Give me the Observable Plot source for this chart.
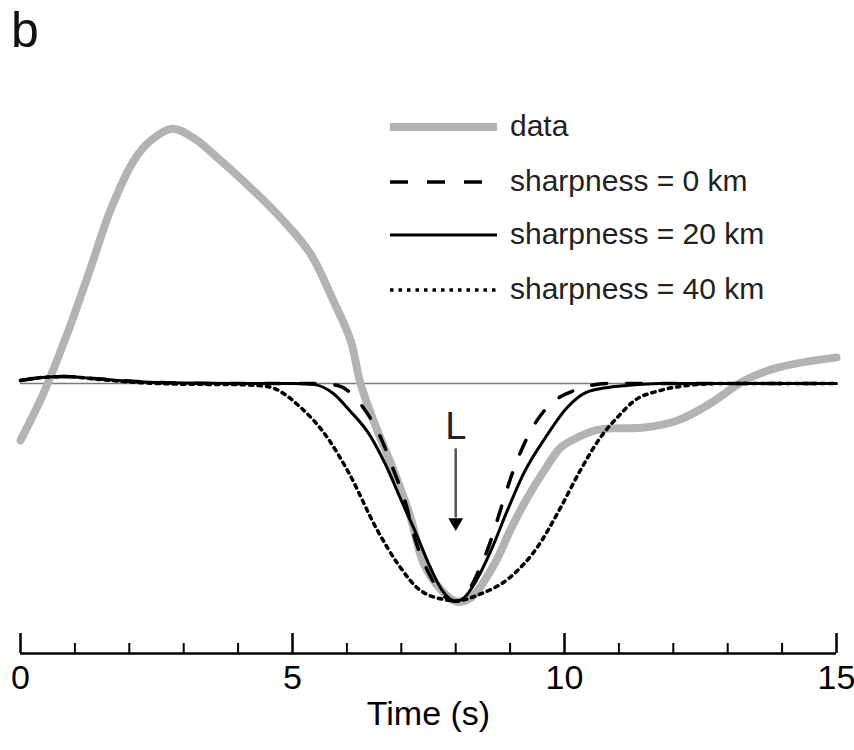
<!DOCTYPE html>
<html><head><meta charset="utf-8">
<script src="https://cdn.jsdelivr.net/npm/d3@7"></script>
<script src="https://cdn.jsdelivr.net/npm/@observablehq/plot@0.6"></script>
<style>
body{margin:0;background:#fff;}
#wrap{position:relative;width:854px;height:750px;overflow:hidden;background:#fff;}
#wrap svg{position:absolute;left:0;top:0;}
</style></head><body><div id="wrap"></div>
<script>
// ---- data (time in s, normalized amplitude) ----
const dataT = [0, 0.42, 0.86, 1.29, 1.65, 2.08, 2.39, 2.79, 3.18, 3.62, 4.23, 4.83, 5.33, 5.75, 6.07, 6.25, 6.56, 6.86, 7.17, 7.41, 7.72, 8.0, 8.27, 8.71, 9.01, 9.32, 9.63, 9.93, 10.24, 10.55, 10.85, 11.47, 12.08, 12.68, 13.31, 13.92, 15];
const dataY = [-0.261, -0.046, 0.229, 0.532, 0.794, 1.023, 1.115, 1.170, 1.128, 1.037, 0.899, 0.748, 0.596, 0.381, 0.197, 0.0, -0.216, -0.399, -0.615, -0.826, -0.945, -1.0, -0.986, -0.83, -0.67, -0.523, -0.399, -0.294, -0.248, -0.216, -0.206, -0.202, -0.17, -0.092, 0.014, 0.073, 0.12];

const sharp0T = [0, 0.4, 0.8, 1.4, 2.2, 3.0, 4.0, 5.0, 5.5, 5.83, 6.3, 6.62, 6.86, 7.08, 7.26, 7.48, 7.72, 8.0, 8.18, 8.4, 8.64, 8.82, 9.04, 9.28, 9.63, 9.93, 10.18, 10.48, 10.8, 15];
const sharp0Y = [0.014, 0.028, 0.032, 0.022, 0.008, 0.002, 0, 0, 0, -0.009, -0.11, -0.248, -0.399, -0.55, -0.72, -0.858, -0.959, -1.0, -0.972, -0.872, -0.725, -0.583, -0.413, -0.266, -0.124, -0.06, -0.032, -0.009, 0, 0];

const sharp20T = [0, 0.4, 0.8, 1.4, 2.2, 3.0, 4.0, 5.0, 5.4, 5.75, 6.05, 6.4, 6.7, 7.0, 7.3, 7.5, 7.75, 8.0, 8.2, 8.35, 8.65, 8.95, 9.25, 9.65, 10.05, 10.4, 10.8, 11.15, 11.75, 15];
const sharp20Y = [0.014, 0.028, 0.032, 0.022, 0.008, 0.002, 0, 0, -0.005, -0.046, -0.124, -0.229, -0.367, -0.537, -0.706, -0.826, -0.95, -1.0, -0.972, -0.917, -0.766, -0.583, -0.413, -0.248, -0.11, -0.041, -0.018, -0.009, 0, 0];

const sharp40T = [0, 0.4, 0.8, 1.4, 2.2, 3.0, 4.0, 4.54, 5.15, 5.64, 6.03, 6.56, 6.93, 7.35, 7.85, 8.0, 8.4, 9.0, 9.5, 9.93, 10.29, 10.66, 10.97, 11.29, 11.76, 12.26, 12.87, 15];
const sharp40Y = [0.014, 0.028, 0.032, 0.02, 0.004, -0.003, -0.005, -0.014, -0.11, -0.248, -0.408, -0.674, -0.826, -0.95, -0.995, -1.0, -0.972, -0.89, -0.752, -0.569, -0.399, -0.248, -0.156, -0.078, -0.032, -0.009, 0, 0];

const seriesNames = ["data", "sharpness = 0 km", "sharpness = 20 km", "sharpness = 40 km"];
const majorTicks = [0, 5, 10, 15];
const minorTicks = [1, 2, 3, 4, 6, 7, 8, 9, 11, 12, 13, 14];
const xLabel = "Time (s)";
const panelLabel = "b";
const markerT = [8];
const markerLabel = ["L"];
const markerTextY = [-0.257];
const arrowTop = [-0.30];
const arrowHeadY = [-0.638];
const xDomain = [0, 15];
const yDomain = [-1.24, 1.3];

// ---- build tables ----
const zipT = (T, Y) => T.map((t, i) => ({t, v: Y[i]}));
const dataRows = zipT(dataT, dataY);
const s0Rows = zipT(sharp0T, sharp0Y);
const s20Rows = zipT(sharp20T, sharp20Y);
const s40Rows = zipT(sharp40T, sharp40Y);

const sans = "'Liberation Sans',Arial,Helvetica,sans-serif";
const styles = [
  {stroke: "#b3b3b3", width: 8, dash: null},
  {stroke: "#000", width: 3.5, dash: "15,20"},
  {stroke: "#000", width: 3, dash: null},
  {stroke: "#000", width: 3.5, dash: "3.5,5"}
];

const chart = Plot.plot({
  width: 854, height: 750,
  marginLeft: 20, marginRight: 18, marginTop: 100, marginBottom: 97,
  x: {domain: xDomain},
  y: {domain: yDomain, axis: null},
  style: {fontFamily: sans, fontSize: "30px", color: "#000", background: "transparent", overflow: "visible"},
  marks: [
    Plot.ruleY([0], {stroke: "#7a7a7a", strokeWidth: 1.6}),
    Plot.line(dataRows, {x: "t", y: "v", stroke: styles[0].stroke, strokeWidth: styles[0].width, curve: "catmull-rom"}),
    Plot.line(s40Rows, {x: "t", y: "v", stroke: "#000", strokeWidth: styles[3].width, strokeDasharray: styles[3].dash, curve: "monotone-x"}),
    Plot.line(s0Rows, {x: "t", y: "v", stroke: "#000", strokeWidth: styles[1].width, strokeDasharray: styles[1].dash, curve: "monotone-x"}),
    Plot.line(s20Rows, {x: "t", y: "v", stroke: "#000", strokeWidth: styles[2].width, curve: "monotone-x"}),
    // L marker arrow
    Plot.ruleX(markerT, {x: d => d, y1: () => arrowTop[0], y2: () => arrowHeadY[0] + 0.02, stroke: "#555", strokeWidth: 2.5}),
    Plot.dot(markerT, {x: d => d, y: () => arrowHeadY[0], symbol: "triangle", r: 5.5, fill: "#000", stroke: "none", rotate: 180}),
    Plot.text(markerT, {x: d => d, y: () => markerTextY[0], text: (d, i) => markerLabel[i], lineAnchor: "bottom", fontSize: 38, fill: "#222"}),
    // axis
    Plot.ruleY([yDomain[0]], {stroke: "#000", strokeWidth: 2.5}),
    Plot.axisX(minorTicks, {tickSize: -10, tickFormat: () => "", strokeWidth: 2, label: null}),
    Plot.axisX(majorTicks, {tickSize: -20, tickPadding: 31, strokeWidth: 2.5, tickFormat: d => String(d),
      label: xLabel, labelAnchor: "center", labelOffset: 71, labelArrow: "none", fontSize: 34})
  ]
});
document.getElementById("wrap").append(chart);

// ---- overlay: panel letter + legend ----
const ov = d3.select("#wrap").append("svg").attr("width", 854).attr("height", 750).style("pointer-events", "none");
ov.append("text").attr("x", 11).attr("y", 47).attr("font-family", sans).attr("font-size", 50).attr("fill", "#111").text(panelLabel);
const rowY = [127, 182, 235, 290];
seriesNames.forEach((name, i) => {
  const st = styles[i];
  ov.append("line").attr("x1", 390).attr("x2", 497).attr("y1", rowY[i]).attr("y2", rowY[i])
    .attr("stroke", st.stroke).attr("stroke-width", st.width)
    .attr("stroke-dasharray", i === 1 ? "18,19" : st.dash);
  ov.append("text").attr("x", 510).attr("y", rowY[i] + 9)
    .attr("font-family", sans).attr("font-size", 30).attr("fill", "#222").text(name);
});
</script></body></html>
